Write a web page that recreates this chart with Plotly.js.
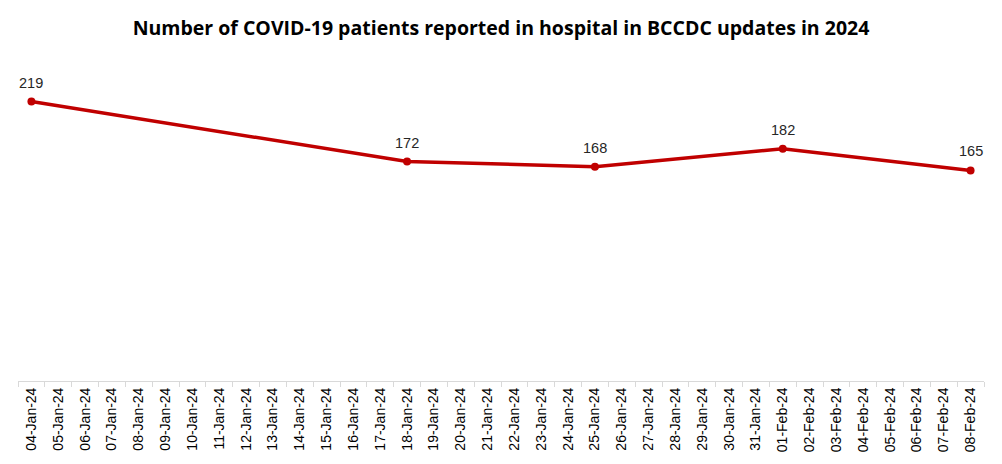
<!DOCTYPE html>
<html>
<head>
<meta charset="utf-8">
<script src="https://cdn.plot.ly/plotly-3.0.1.min.js"></script>
<style>html,body{margin:0;padding:0;background:#fff;}#chart{width:1002px;height:464px;}</style>
</head>
<body>
<div id="chart"></div>
<script>
const allDates = ["04-Jan-24","05-Jan-24","06-Jan-24","07-Jan-24","08-Jan-24","09-Jan-24","10-Jan-24","11-Jan-24","12-Jan-24","13-Jan-24","14-Jan-24","15-Jan-24","16-Jan-24","17-Jan-24","18-Jan-24","19-Jan-24","20-Jan-24","21-Jan-24","22-Jan-24","23-Jan-24","24-Jan-24","25-Jan-24","26-Jan-24","27-Jan-24","28-Jan-24","29-Jan-24","30-Jan-24","31-Jan-24","01-Feb-24","02-Feb-24","03-Feb-24","04-Feb-24","05-Feb-24","06-Feb-24","07-Feb-24","08-Feb-24"];
const reportDates = ["04-Jan-24","18-Jan-24","25-Jan-24","01-Feb-24","08-Feb-24"];
const patients = [219,172,168,182,165];

const trace = {
  x: reportDates,
  y: patients,
  type: "scatter",
  mode: "lines+markers",
  line: {color: "#C00000", width: 3.5},
  marker: {color: "#C00000", size: 8},
  cliponaxis: false,
  hoverinfo: "x+y"
};

const labels = reportDates.map((d, i) => ({
  x: d, y: patients[i], xref: "x", yref: "y",
  text: String(patients[i]), showarrow: false,
  yanchor: "middle", xanchor: "center", yshift: 19,
  font: {family: "Liberation Sans, Arial, sans-serif", size: 14.5, color: "#262626"}
}));

const layout = {
  width: 1002, height: 464,
  margin: {l: 18, r: 18, t: 62, b: 83},
  paper_bgcolor: "#fff", plot_bgcolor: "#fff",
  showlegend: false,
  annotations: labels,
  title: {
    text: "<b>Number of COVID-19 patients reported in hospital in BCCDC updates in 2024</b>",
    x: 0.5, xanchor: "center", y: 0.94, yanchor: "middle",
    font: {family: "Open Sans, Liberation Sans, sans-serif", size: 19.5, color: "#000"}
  },
  xaxis: {
    type: "category",
    categoryorder: "array",
    categoryarray: allDates,
    range: [-0.5, allDates.length - 0.5],
    tickangle: -90,
    tickfont: {family: "Liberation Sans, Arial, sans-serif", size: 14, color: "#000"},
    showline: true, linecolor: "#d9d9d9", linewidth: 1,
    ticks: "outside", tickson: "boundaries", ticklen: 5, tickcolor: "#d9d9d9",
    showgrid: false, zeroline: false, fixedrange: true
  },
  yaxis: {
    range: [0, 250],
    visible: false,
    showgrid: false, zeroline: false, fixedrange: true
  }
};

Plotly.newPlot("chart", [trace], layout, {displayModeBar: false, staticPlot: true});
</script>
</body>
</html>
